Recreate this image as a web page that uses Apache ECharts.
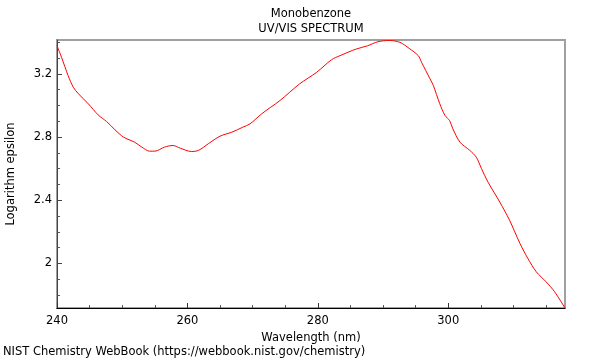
<!DOCTYPE html>
<html>
<head>
<meta charset="utf-8">
<script src="https://cdn.jsdelivr.net/npm/echarts@6/dist/echarts.min.js"></script>
<style>html,body{margin:0;padding:0;background:#fff}#c{width:600px;height:360px}</style>
</head>
<body>
<div id="c"></div>
<script>
const wavelength = [240.0, 240.7, 241.7, 242.5, 243.3, 244.8, 246.3, 247.6, 248.9, 250.2, 251.9, 253.0, 254.2, 255.0, 256.5, 257.8, 258.9, 260.6, 261.7, 263.2, 265.0, 266.8, 268.5, 269.6, 271.4, 274.2, 277.2, 279.8, 282.1, 283.4, 285.9, 287.6, 289.2, 291.0, 292.6, 294.0, 295.4, 295.9, 297.2, 297.7, 298.7, 299.5, 300.2, 300.7, 301.8, 303.3, 304.3, 305.1, 306.1, 307.9, 309.4, 310.2, 311.0, 312.2, 313.5, 315.0, 316.3, 317.9];
const logEpsilon = [3.379, 3.305, 3.190, 3.116, 3.074, 3.011, 2.941, 2.899, 2.846, 2.800, 2.768, 2.737, 2.711, 2.711, 2.737, 2.747, 2.730, 2.709, 2.716, 2.758, 2.806, 2.831, 2.863, 2.884, 2.948, 3.032, 3.137, 3.210, 3.290, 3.316, 3.358, 3.378, 3.404, 3.412, 3.400, 3.362, 3.316, 3.274, 3.169, 3.128, 3.011, 2.937, 2.905, 2.853, 2.768, 2.716, 2.673, 2.600, 2.515, 2.389, 2.274, 2.200, 2.126, 2.032, 1.947, 1.884, 1.821, 1.718];
const xMajorTicks = [240, 260, 280, 300];
const xMinorTicks = [245, 250, 255, 265, 270, 275, 285, 290, 295, 305, 310, 315];
const yMajorTicks = [2, 2.4, 2.8, 3.2];
const yMinorTicks = [1.8, 1.9, 2.1, 2.2, 2.3, 2.5, 2.6, 2.7, 2.9, 3.0, 3.1, 3.3, 3.4];
const titleText = 'Monobenzone\nUV/VIS SPECTRUM';
const xName = 'Wavelength (nm)';
const yName = 'Logarithm epsilon';
const footer = 'NIST Chemistry WebBook (https://webbook.nist.gov/chemistry)';

const X_MIN = 240, X_MAX = 317.9, Y_MIN = 1.718, Y_MAX = 3.415;
const FONT = 'DejaVu Sans';
const FS = 11.5;

const chart = echarts.init(document.getElementById('c'), null, {renderer: 'canvas'});
const pts = wavelength.map((w, i) => [w, logEpsilon[i]]);

chart.setOption({
  animation: false,
  textStyle: {fontFamily: FONT},
  title: [
    {text: titleText, left: 311, top: 7, textAlign: 'center', padding: 0,
     textStyle: {fontFamily: FONT, fontSize: FS, fontWeight: 'normal', color: '#000', lineHeight: 14.4}},
    {text: footer, left: 3, top: 346, padding: 0,
     textStyle: {fontFamily: FONT, fontSize: FS, fontWeight: 'normal', color: '#000'}}
  ],
  grid: {left: 57, right: 35, top: 40, bottom: 52, show: true, borderColor: '#a0a0a0', borderWidth: 2,
         backgroundColor: 'transparent', containLabel: false, outerBoundsMode: 'none'},
  xAxis: [
    {type: 'value', min: X_MIN, max: X_MAX, position: 'bottom',
     name: xName, nameLocation: 'middle', nameGap: 15,
     nameTextStyle: {fontFamily: FONT, fontSize: FS, color: '#000'},
     axisLine: {show: true, lineStyle: {color: '#000', width: 1}},
     axisTick: {show: true, inside: true, length: 5, customValues: xMajorTicks, lineStyle: {color: '#333'}},
     axisLabel: {show: true, customValues: xMajorTicks, margin: 7, color: '#000', fontSize: FS, fontFamily: FONT},
     splitLine: {show: false}},
    {type: 'value', min: X_MIN, max: X_MAX, position: 'bottom',
     axisLine: {show: false},
     axisTick: {show: true, inside: true, length: 3, customValues: xMinorTicks, lineStyle: {color: '#555'}},
     axisLabel: {show: false}, splitLine: {show: false}}
  ],
  yAxis: [
    {type: 'value', min: Y_MIN, max: Y_MAX, position: 'left',
     name: yName, nameLocation: 'middle', nameGap: 40,
     nameTextStyle: {fontFamily: FONT, fontSize: FS, color: '#000'},
     axisLine: {show: true, lineStyle: {color: '#444', width: 1}},
     axisTick: {show: true, inside: true, length: 5, customValues: yMajorTicks, lineStyle: {color: '#444'}},
     axisLabel: {show: true, customValues: yMajorTicks, margin: 5, color: '#000', fontSize: FS, fontFamily: FONT,
                 formatter: v => String(+v.toFixed(2))},
     splitLine: {show: false}},
    {type: 'value', min: Y_MIN, max: Y_MAX, position: 'left',
     axisLine: {show: false},
     axisTick: {show: true, inside: true, length: 3, customValues: yMinorTicks, lineStyle: {color: '#555'}},
     axisLabel: {show: false}, splitLine: {show: false}}
  ],
  series: [{
    type: 'line', xAxisIndex: 0, yAxisIndex: 0, data: pts,
    showSymbol: false, smooth: 0.3,
    lineStyle: {color: '#ff0000', width: 1}
  }]
});
</script>
</body>
</html>
